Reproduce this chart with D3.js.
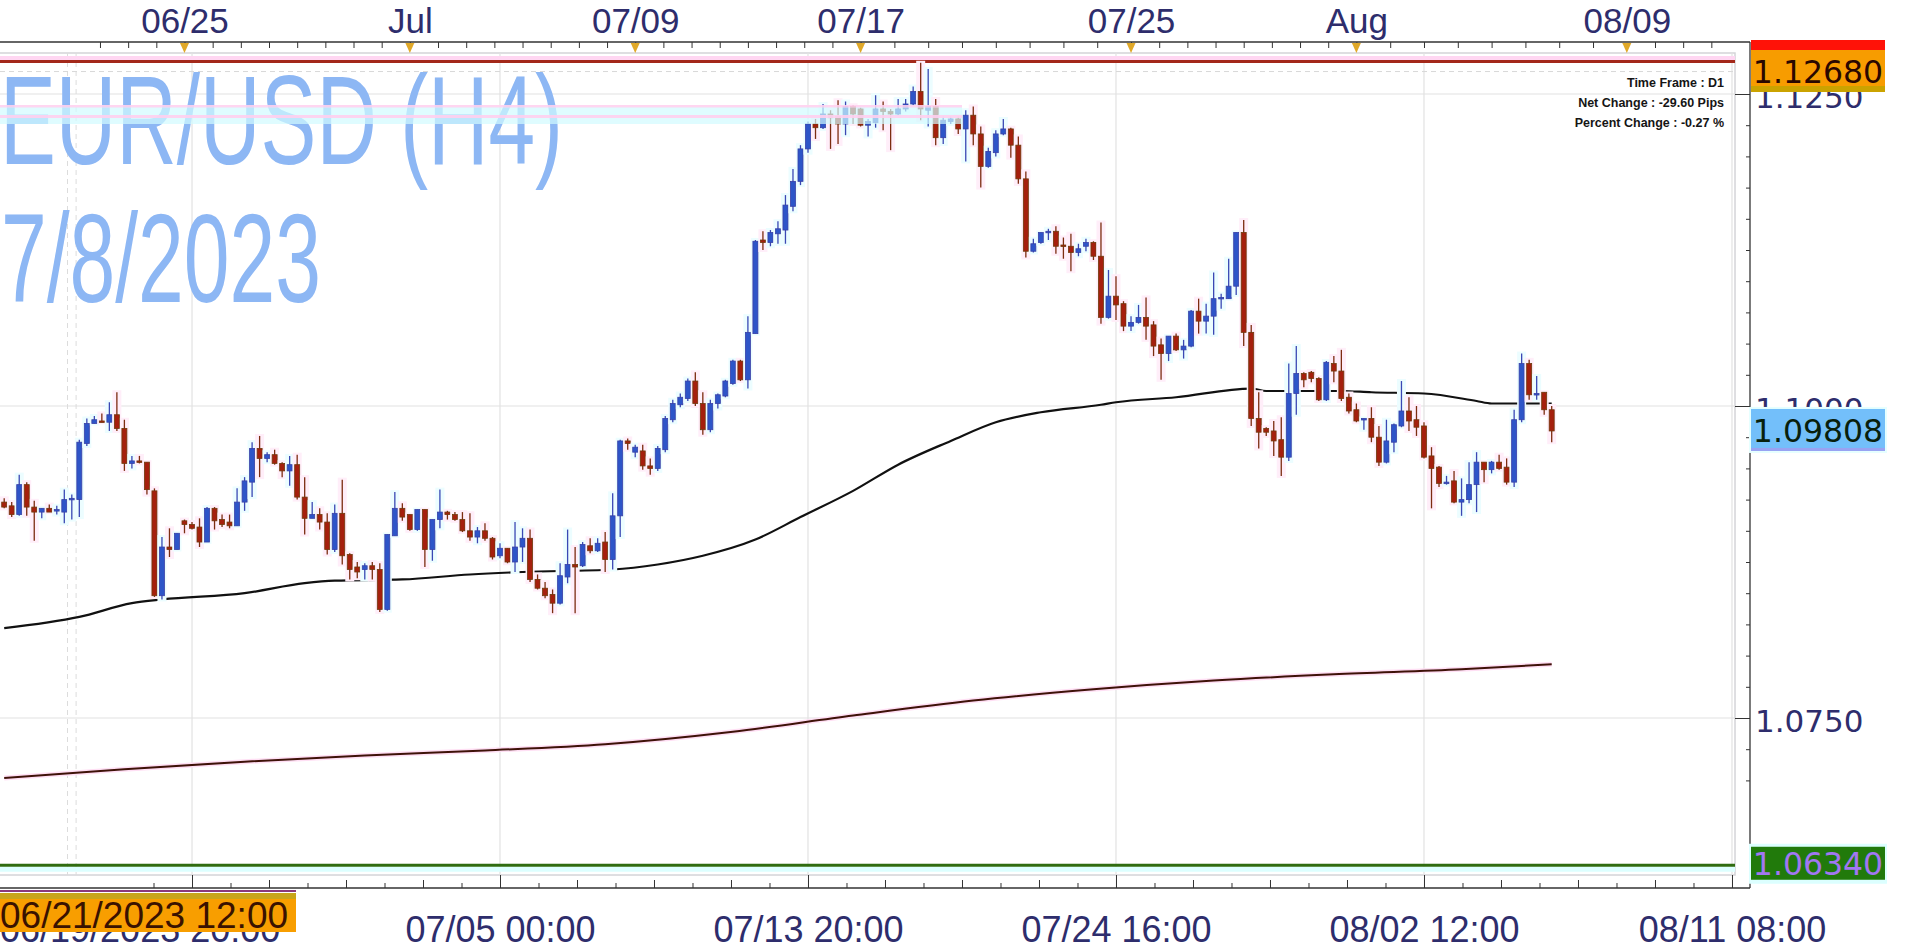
<!DOCTYPE html>
<html><head><meta charset="utf-8">
<script src="https://cdn.jsdelivr.net/npm/d3@7"></script>
<style>html,body{margin:0;padding:0;background:#fff;overflow:hidden}</style>
</head><body>
<svg id="c" width="1906" height="951"></svg>
<script>
// ---------------- DATA ----------------
const opens = [1.0923,1.0920,1.0913,1.0937,1.0919,1.0915,1.0918,1.0916,1.0915,1.0925,
1.0925,1.0970,1.0986,1.0988,1.0987,1.0993,1.0982,1.0954,1.0956,1.0955,
1.0932,1.0848,1.0887,1.0885,1.0908,1.0905,1.0903,1.0891,1.0918,1.0909,
1.0907,1.0904,1.0923,1.0939,1.0966,1.0958,1.0961,1.0954,1.0948,1.0953,
1.0927,1.0910,1.0913,1.0907,1.0885,1.0914,1.0881,1.0871,1.0869,1.0872,
1.0869,1.0837,1.0896,1.0918,1.0913,1.0901,1.0917,1.0885,1.0909,1.0915,
1.0913,1.0909,1.0900,1.0895,1.0900,1.0894,1.0880,1.0886,1.0875,1.0887,
1.0894,1.0861,1.0854,1.0849,1.0842,1.0863,1.0873,1.0872,1.0888,1.0884,
1.0891,1.0877,1.0912,1.0972,1.0963,1.0964,1.0952,1.0950,1.0965,1.0989,
1.1001,1.1006,1.1020,1.1002,1.0981,1.1002,1.1008,1.1018,1.1036,1.1021,
1.1058,1.1133,1.1131,1.1138,1.1141,1.1160,1.1180,1.1206,1.1226,1.1223,
1.1234,1.1232,1.1226,1.1240,1.1238,1.1225,1.1227,1.1238,1.1236,1.1234,
1.1238,1.1242,1.1252,1.1237,1.1240,1.1215,1.1228,1.1230,1.1222,1.1233,
1.1218,1.1192,1.1203,1.1218,1.1222,1.1209,1.1182,1.1124,1.1131,1.1139,
1.1140,1.1129,1.1128,1.1123,1.1128,1.1131,1.1120,1.1071,1.1088,1.1082,
1.1064,1.1067,1.1071,1.1065,1.1049,1.1042,1.1056,1.1045,1.1048,1.1076,
1.1068,1.1072,1.1086,1.1086,1.1096,1.1139,1.1059,1.0990,1.0982,1.0980,
1.0973,1.0959,1.1010,1.1026,1.1027,1.1022,1.1005,1.1034,1.1028,1.1007,
1.0997,1.0989,1.0990,1.0975,1.0955,1.0971,1.0984,1.0996,1.0989,1.0984,
1.0960,1.0951,1.0938,1.0940,1.0923,1.0925,1.0937,1.0955,1.0949,1.0955,
1.0951,1.0939,1.0989,1.1034,1.1009,1.1011,1.0997];
const highs = [1.0926,1.0923,1.0945,1.0939,1.0924,1.0918,1.0921,1.0920,1.0933,1.0929,
1.0973,1.0990,1.0992,1.0994,1.1003,1.1011,1.0989,1.0960,1.0960,1.0955,
1.0934,1.0895,1.0902,1.0898,1.0909,1.0907,1.0910,1.0919,1.0919,1.0913,
1.0913,1.0934,1.0943,1.0971,1.0976,1.0963,1.0965,1.0955,1.0960,1.0961,
1.0943,1.0923,1.0918,1.0914,1.0921,1.0941,1.0882,1.0875,1.0874,1.0875,
1.0874,1.0897,1.0931,1.0922,1.0913,1.0917,1.0917,1.0909,1.0933,1.0916,
1.0915,1.0915,1.0914,1.0903,1.0906,1.0895,1.0890,1.0886,1.0907,1.0902,
1.0901,1.0865,1.0859,1.0853,1.0874,1.0901,1.0887,1.0891,1.0894,1.0894,
1.0899,1.0930,1.0973,1.0974,1.0969,1.0969,1.0958,1.0968,1.0992,1.1005,
1.1010,1.1022,1.1027,1.1011,1.1005,1.1010,1.1021,1.1037,1.1037,1.1072,
1.1133,1.1140,1.1141,1.1148,1.1169,1.1190,1.1209,1.1228,1.1230,1.1242,
1.1237,1.1245,1.1244,1.1241,1.1239,1.1230,1.1249,1.1244,1.1238,1.1246,
1.1246,1.1256,1.1275,1.1270,1.1246,1.1232,1.1232,1.1232,1.1237,1.1240,
1.1224,1.1207,1.1221,1.1230,1.1223,1.1216,1.1188,1.1134,1.1139,1.1142,
1.1144,1.1135,1.1138,1.1130,1.1134,1.1132,1.1147,1.1109,1.1104,1.1084,
1.1072,1.1081,1.1087,1.1068,1.1054,1.1056,1.1058,1.1053,1.1077,1.1086,
1.1082,1.1107,1.1090,1.1118,1.1139,1.1149,1.1065,1.1011,1.0983,1.0988,
1.0991,1.1034,1.1048,1.1027,1.1028,1.1023,1.1036,1.1040,1.1045,1.1010,
1.1002,1.0990,1.0999,1.0984,1.0989,1.0986,1.1020,1.1007,1.1000,1.0987,
1.0967,1.0952,1.0944,1.0948,1.0942,1.0955,1.0963,1.0955,1.0956,1.0961,
1.0958,1.0997,1.1042,1.1037,1.1024,1.1011,1.1000];
const lows = [1.0918,1.0911,1.0912,1.0912,1.0892,1.0910,1.0915,1.0913,1.0906,1.0909,
1.0911,1.0968,1.0986,1.0987,1.0980,1.0980,1.0948,1.0950,1.0954,1.0929,
1.0847,1.0845,1.0879,1.0885,1.0898,1.0901,1.0887,1.0891,1.0901,1.0903,
1.0902,1.0904,1.0916,1.0927,1.0943,1.0955,1.0953,1.0943,1.0936,1.0925,
1.0897,1.0910,1.0901,1.0881,1.0883,1.0873,1.0861,1.0862,1.0861,1.0861,
1.0835,1.0836,1.0896,1.0908,1.0900,1.0900,1.0871,1.0876,1.0902,1.0909,
1.0908,1.0899,1.0892,1.0890,1.0892,1.0877,1.0878,1.0874,1.0867,1.0875,
1.0859,1.0853,1.0846,1.0834,1.0841,1.0858,1.0834,1.0871,1.0882,1.0883,
1.0867,1.0869,1.0895,1.0965,1.0959,1.0949,1.0945,1.0948,1.0963,1.0987,
1.0999,1.1004,1.1000,1.0977,1.0979,1.0998,1.1007,1.1017,1.1020,1.1014,
1.1058,1.1125,1.1128,1.1130,1.1130,1.1156,1.1177,1.1203,1.1214,1.1222,
1.1206,1.1210,1.1217,1.1226,1.1224,1.1216,1.1223,1.1221,1.1205,1.1233,
1.1236,1.1241,1.1229,1.1224,1.1209,1.1210,1.1226,1.1218,1.1196,1.1209,
1.1175,1.1191,1.1200,1.1217,1.1199,1.1178,1.1119,1.1123,1.1130,1.1133,
1.1122,1.1118,1.1108,1.1120,1.1124,1.1117,1.1066,1.1070,1.1069,1.1060,
1.1060,1.1066,1.1053,1.1040,1.1021,1.1036,1.1044,1.1038,1.1047,1.1058,
1.1058,1.1057,1.1078,1.1086,1.1089,1.1048,1.0984,1.0966,1.0976,1.0960,
1.0944,1.0956,1.0993,1.1015,1.1019,1.1004,1.1004,1.1019,1.1004,1.0994,
1.0987,1.0981,1.0971,1.0952,1.0954,1.0963,1.0983,1.0980,1.0976,1.0958,
1.0918,1.0935,1.0937,1.0922,1.0912,1.0922,1.0915,1.0939,1.0946,1.0949,
1.0937,1.0935,1.0987,1.1005,1.1005,1.0993,1.0971];
const closes = [1.0919,1.0913,1.0937,1.0919,1.0915,1.0918,1.0915,1.0917,1.0925,1.0926,
1.0971,1.0986,1.0989,1.0987,1.0993,1.0982,1.0954,1.0956,1.0955,1.0933,
1.0848,1.0887,1.0885,1.0898,1.0905,1.0902,1.0891,1.0918,1.0908,1.0905,
1.0904,1.0923,1.0940,1.0966,1.0958,1.0961,1.0954,1.0948,1.0953,1.0927,
1.0910,1.0913,1.0907,1.0885,1.0914,1.0880,1.0869,1.0867,1.0872,1.0869,
1.0837,1.0897,1.0918,1.0911,1.0901,1.0917,1.0885,1.0909,1.0915,1.0913,
1.0909,1.0900,1.0895,1.0900,1.0894,1.0879,1.0886,1.0875,1.0887,1.0894,
1.0861,1.0854,1.0848,1.0842,1.0864,1.0873,1.0871,1.0889,1.0884,1.0890,
1.0877,1.0912,1.0972,1.0970,1.0967,1.0952,1.0950,1.0966,1.0990,1.1002,
1.1007,1.1020,1.1002,1.0981,1.1002,1.1009,1.1020,1.1036,1.1021,1.1059,
1.1132,1.1131,1.1139,1.1142,1.1161,1.1180,1.1206,1.1226,1.1223,1.1234,
1.1231,1.1226,1.1240,1.1234,1.1225,1.1228,1.1238,1.1236,1.1234,1.1238,
1.1242,1.1252,1.1238,1.1240,1.1215,1.1229,1.1230,1.1222,1.1233,1.1218,
1.1192,1.1204,1.1218,1.1222,1.1209,1.1182,1.1124,1.1130,1.1139,1.1140,
1.1128,1.1128,1.1123,1.1126,1.1131,1.1120,1.1071,1.1088,1.1081,1.1064,
1.1067,1.1071,1.1064,1.1048,1.1042,1.1056,1.1045,1.1048,1.1076,1.1068,
1.1072,1.1086,1.1087,1.1096,1.1139,1.1059,1.0990,1.0979,1.0979,1.0972,
1.0959,1.1010,1.1026,1.1021,1.1022,1.1005,1.1035,1.1028,1.1006,1.0996,
1.0988,1.0990,1.0975,1.0955,1.0972,1.0985,1.0996,1.0988,1.0983,1.0959,
1.0950,1.0938,1.0939,1.0923,1.0925,1.0937,1.0955,1.0949,1.0955,1.0950,
1.0939,1.0989,1.1034,1.1009,1.1010,1.0997,1.0980];

// moving averages read at sample bars
const ma1Bars = [0,10,17,21,32,40,44,53,62,69,81,87,93,100,106,113,119,126,132,138,146,148,156,166,168,178,182,189,196,198,206];
const ma1Vals = [1.0822,1.0831,1.0842,1.0845,1.0850,1.0858,1.0860,1.0861,1.0865,1.0867,1.0869,1.0873,1.0880,1.0893,1.0911,1.0932,1.0953,1.0972,1.0987,1.0995,1.1001,1.1003,1.1007,1.1014,1.1012,1.1012,1.1011,1.1010,1.1004,1.1002,1.1002];
const ma2Bars = [0,16,32,48,64,80,97,113,129,145,161,177,194,206];
const ma2Vals = [1.0702,1.0709,1.0715,1.0720,1.0724,1.0729,1.0739,1.0752,1.0764,1.0773,1.0780,1.0785,1.0789,1.0793];

const priceMajor = [1.0750, 1.1000, 1.1250];
const priceLabels = ["1.0750","1.1000","1.1250"];
const topLabels = ["06/25","Jul","07/09","07/17","07/25","Aug","08/09"];
const topLabelBars = [24,54,84,114,150,180,216];
const bottomLabels = ["07/05 00:00","07/13 20:00","07/24 16:00","08/02 12:00","08/11 08:00"];
const bottomLabelBars = [66,107,148,189,230];
const gridBars = [25,66,107,148,189,230];
const firstLabel = "06/19/2023 20:00";
const cursorLabel = "06/21/2023 12:00";
const cursorBar = 9;
const periodHigh = 1.1276, highLabel = "1.12680", highLabelPrice = 1.1268;
const periodLow = 1.0632, lowLabel = "1.06340", lowLabelPrice = 1.0634;
const lastLabel = "1.09808", lastPrice = 1.09808;
const titleText = "EUR/USD (H4)", dateText = "7/8/2023";
const infoLines = ["Time Frame : D1","Net Change : -29.60 Pips","Percent Change : -0.27 %"];

// ---------------- LAYOUT ----------------
const svg = d3.select("#c");
const W = 1906, H = 951;
const plotL = 0, plotR = 1735, plotT = 53, plotB = 875;
const axisX = 1750, axisTopY = 42, axisBotY = 888;
const x = d3.scaleLinear().domain([0, 206]).range([4.2, 1551.7]);
const y = d3.scaleLinear().domain([1.075, 1.1]).range([718, 406]);
const NAVY = "#2e2d6c";

svg.append("rect").attr("width", W).attr("height", H).attr("fill", "#fff");
const defs = svg.append("defs");
defs.append("clipPath").attr("id", "pc").append("rect")
  .attr("x", plotL).attr("y", plotT).attr("width", plotR - plotL).attr("height", plotB - plotT);

// frame
svg.append("rect").attr("x", -2).attr("y", plotT).attr("width", plotR + 2).attr("height", plotB - plotT)
  .attr("fill", "none").attr("stroke", "#d4d4d8").attr("stroke-width", 1.5);

const plot = svg.append("g").attr("clip-path", "url(#pc)");

// grid
plot.selectAll("line.hg").data(priceMajor).join("line")
  .attr("x1", plotL).attr("x2", plotR).attr("y1", d => y(d)).attr("y2", d => y(d))
  .attr("stroke", "#e2e2e2").attr("stroke-width", 1.2);
plot.selectAll("line.vg").data(gridBars).join("line")
  .attr("x1", d => x(d)).attr("x2", d => x(d)).attr("y1", plotT).attr("y2", plotB)
  .attr("stroke", "#e2e2e2").attr("stroke-width", 1.2);
// cursor dashed lines
plot.selectAll("line.cur").data([-4.3, 4.3]).join("line")
  .attr("x1", d => x(cursorBar) + d).attr("x2", d => x(cursorBar) + d)
  .attr("y1", plotT).attr("y2", plotB)
  .attr("stroke", "#dcdcdc").attr("stroke-dasharray", "5,4").attr("stroke-width", 1);

// dashed level line
plot.append("line").attr("x1", plotL).attr("x2", plotR)
  .attr("y1", y(highLabelPrice)).attr("y2", y(highLabelPrice))
  .attr("stroke", "#d8d8d8").attr("stroke-dasharray", "5,4");

// title watermark
const title = svg.append("g");
title.append("text").attr("x", 0).attr("y", 164).text(titleText)
  .attr("font-family", "Liberation Sans, Arial, sans-serif").attr("font-size", 127)
  .attr("textLength", 563).attr("lengthAdjust", "spacingAndGlyphs").attr("fill", "#8db7f4");
title.append("text").attr("x", 1).attr("y", 302).text(dateText)
  .attr("font-family", "Liberation Sans, Arial, sans-serif").attr("font-size", 127)
  .attr("textLength", 320).attr("lengthAdjust", "spacingAndGlyphs").attr("fill", "#8db7f4");
// cyan/pink band artefact
svg.append("rect").attr("x", 0).attr("y", 107).attr("width", 962).attr("height", 17)
  .attr("fill", "#d2fbff").attr("opacity", 0.7);
svg.append("rect").attr("x", 0).attr("y", 105).attr("width", 962).attr("height", 2.5).attr("fill", "#ffd2f0").attr("opacity", 0.9);
svg.append("rect").attr("x", 0).attr("y", 115).attr("width", 962).attr("height", 3).attr("fill", "#ffcfee").attr("opacity", 0.9);

// period high / low lines
plot.append("line").attr("x1", plotL).attr("x2", plotR).attr("y1", y(periodHigh) - 3).attr("y2", y(periodHigh) - 3)
  .attr("stroke", "#ffd6f2").attr("stroke-width", 5);
plot.append("line").attr("x1", plotL).attr("x2", plotR).attr("y1", y(periodHigh)).attr("y2", y(periodHigh))
  .attr("stroke", "#a3281a").attr("stroke-width", 3);
plot.append("line").attr("x1", plotL).attr("x2", plotR).attr("y1", y(periodLow) + 4).attr("y2", y(periodLow) + 4)
  .attr("stroke", "#dcffff").attr("stroke-width", 5);
plot.append("line").attr("x1", plotL).attr("x2", plotR).attr("y1", y(periodLow)).attr("y2", y(periodLow))
  .attr("stroke", "#2f6c10").attr("stroke-width", 3);

// moving averages
const line = d3.line().x(d => x(d[0])).y(d => y(d[1])).curve(d3.curveMonotoneX);
const ma2 = ma2Bars.map((b, i) => [b, ma2Vals[i]]);
const ma1 = ma1Bars.map((b, i) => [b, ma1Vals[i]]);
plot.append("path").attr("d", line(ma2)).attr("fill", "none").attr("stroke", "#ffdff4").attr("stroke-width", 5);
plot.append("path").attr("d", line(ma2)).attr("fill", "none").attr("stroke", "#3e1208").attr("stroke-width", 2);
plot.append("path").attr("d", line(ma1)).attr("fill", "none").attr("stroke", "#111").attr("stroke-width", 2.2);

// candles
const bars = d3.range(opens.length);
const bw = 5;
const cg = plot.selectAll("g.cd").data(bars).join("g");
cg.append("rect").attr("class", "halo")
  .attr("x", i => x(i) - bw / 2 - 2).attr("width", bw + 4)
  .attr("y", i => y(highs[i]) - 2).attr("height", i => y(lows[i]) - y(highs[i]) + 4)
  .attr("fill", i => closes[i] >= opens[i] ? "#ecfdff" : "#ffeef9");
cg.append("line")
  .attr("x1", i => x(i)).attr("x2", i => x(i))
  .attr("y1", i => y(highs[i])).attr("y2", i => y(lows[i]))
  .attr("stroke", i => closes[i] >= opens[i] ? "#3a48b4" : "#7c2c10").attr("stroke-width", 1.3);
cg.append("rect")
  .attr("x", i => x(i) - bw / 2).attr("width", bw)
  .attr("y", i => y(Math.max(opens[i], closes[i])))
  .attr("height", i => Math.max(1.5, Math.abs(y(opens[i]) - y(closes[i]))))
  .attr("fill", i => closes[i] >= opens[i] ? "#2d55c8" : "#a51f0d")
  .attr("stroke", i => closes[i] >= opens[i] ? "#3940a6" : "#6e3a0c").attr("stroke-width", 0.8);

// info block
svg.selectAll("text.info").data(infoLines).join("text")
  .attr("x", 1724).attr("y", (d, i) => 87 + i * 20).attr("text-anchor", "end")
  .attr("font-family", "Liberation Sans, Arial, sans-serif").attr("font-weight", "bold")
  .attr("font-size", 12.5).attr("fill", "#151515").text(d => d);

// ---------------- AXES ----------------
// right axis
const minorPrices = d3.range(-12, 11).map(i => 1.1 + i * 0.0025);
svg.append("g").attr("transform", `translate(${axisX},0)`)
  .call(d3.axisRight(y).tickValues(minorPrices.filter(v => y(v) > axisTopY + 5 && y(v) < axisBotY - 5)).tickSize(-4).tickFormat(""))
  .call(g => g.select(".domain").remove())
  .selectAll("line").attr("stroke", "#333");
const ra = svg.append("g").attr("transform", `translate(${axisX},0)`)
  .call(d3.axisRight(y).tickValues(priceMajor).tickSize(-15).tickPadding(5).tickFormat((d, i) => priceLabels[i]));
ra.select(".domain").remove();
ra.selectAll("line").attr("stroke", "#333");
ra.selectAll("text").attr("font-family", "DejaVu Sans, Verdana, sans-serif").attr("font-size", 31)
  .attr("fill", NAVY).attr("dy", "0.42em");

// top axis
const ticksTop = [];
for (let j = 0; j < topLabelBars.length - 1; j++) {
  const a = topLabelBars[j], b = topLabelBars[j + 1];
  for (let s = 0; s < 8; s++) ticksTop.push(a + (b - a) * s / 8);
}
for (let s = 1; s <= 3; s++) ticksTop.push(topLabelBars[0] - 30 * s / 8);
for (let s = 1; s <= 3; s++) ticksTop.push(topLabelBars[6] + 30 * s / 8);
const ta = svg.append("g").attr("transform", `translate(0,${axisTopY})`)
  .call(d3.axisTop(x).tickValues(ticksTop.filter(v => x(v) > 2 && x(v) < axisX - 2)).tickSize(-6).tickFormat(""));
ta.select(".domain").remove();
ta.selectAll("line").attr("stroke", "#333");
const tl = svg.append("g").attr("transform", `translate(0,${axisTopY})`)
  .call(d3.axisTop(x).tickValues(topLabelBars).tickSize(0).tickPadding(9).tickFormat((d, i) => topLabels[i]));
tl.select(".domain").remove();
tl.selectAll("text").attr("font-family", "Liberation Sans, Arial, sans-serif").attr("font-size", 35).attr("fill", NAVY);
// markers
svg.selectAll("path.tri").data(topLabelBars).join("path")
  .attr("d", d => `M${x(d) - 4.5},${axisTopY + 1}L${x(d) + 4.5},${axisTopY + 1}L${x(d)},${axisTopY + 11}Z`)
  .attr("fill", "#e0a828");

// bottom axis
const ticksBot = [];
for (let k = -1; k < 9 * 6; k++) ticksBot.push(25 + k * 41 / 8);
const ba = svg.append("g").attr("transform", `translate(0,${axisBotY})`)
  .call(d3.axisBottom(x).tickValues(ticksBot.filter(v => x(v) > 2 && x(v) < axisX - 4)).tickSize(-5).tickFormat(""));
ba.select(".domain").remove();
ba.selectAll("line").attr("stroke", "#333").attr("y2", (d, i) => (i % 2 ? -8 : -5));
const bm = svg.append("g").attr("transform", `translate(0,${axisBotY})`)
  .call(d3.axisBottom(x).tickValues(gridBars).tickSize(-13).tickPadding(28).tickFormat(d => {
    const j = bottomLabelBars.indexOf(d); return j >= 0 ? bottomLabels[j] : "";
  }));
bm.select(".domain").remove();
bm.selectAll("line").attr("stroke", "#333");
bm.selectAll("text").attr("font-family", "Liberation Sans, Arial, sans-serif").attr("font-size", 36).attr("fill", NAVY);
svg.append("text").attr("x", 0).attr("y", 942).text(firstLabel)
  .attr("font-family", "Liberation Sans, Arial, sans-serif").attr("font-size", 36).attr("fill", NAVY);

// axis lines
svg.append("line").attr("x1", 0).attr("x2", axisX).attr("y1", axisTopY).attr("y2", axisTopY).attr("stroke", "#333").attr("stroke-width", 1.3);
svg.append("line").attr("x1", 0).attr("x2", axisX).attr("y1", axisBotY).attr("y2", axisBotY).attr("stroke", "#333").attr("stroke-width", 1.3);
svg.append("line").attr("x1", axisX).attr("x2", axisX).attr("y1", axisTopY).attr("y2", axisBotY).attr("stroke", "#333").attr("stroke-width", 1.3);

// ---------------- LABEL BOXES ----------------
const boxX = 1751, boxW = 134, fnt = "DejaVu Sans, Verdana, sans-serif";
// high box
svg.append("rect").attr("x", boxX).attr("y", 40).attr("width", boxW).attr("height", 10).attr("fill", "#ff1208");
svg.append("rect").attr("x", boxX).attr("y", 50).attr("width", boxW).attr("height", 42).attr("fill", "#f79c00");
svg.append("rect").attr("x", boxX).attr("y", 86).attr("width", boxW).attr("height", 6).attr("fill", "#cba300");
svg.append("text").attr("x", boxX + boxW / 2).attr("y", y(highLabelPrice) + 11).attr("text-anchor", "middle")
  .attr("font-family", fnt).attr("font-size", 31.5).attr("fill", "#2a0800").text(highLabel);
// last price box
const ly = y(lastPrice);
svg.append("rect").attr("x", boxX - 2).attr("y", ly - 23).attr("width", boxW + 4).attr("height", 46).attr("fill", "#e6ffff");
svg.append("rect").attr("x", boxX).attr("y", ly - 21).attr("width", boxW).attr("height", 42).attr("fill", "#73bffa");
svg.append("rect").attr("x", boxX).attr("y", ly + 18).attr("width", boxW).attr("height", 3).attr("fill", "#9aa2f2");
svg.append("text").attr("x", boxX + boxW / 2).attr("y", ly + 12).attr("text-anchor", "middle")
  .attr("font-family", fnt).attr("font-size", 31.5).attr("fill", "#08200c").text(lastLabel);
// low box
const lwy = y(lowLabelPrice);
svg.append("rect").attr("x", boxX - 2).attr("y", lwy - 19).attr("width", boxW + 4).attr("height", 40).attr("fill", "#dcffff");
svg.append("rect").attr("x", boxX).attr("y", lwy - 16).attr("width", boxW).attr("height", 33).attr("fill", "#217a0b");
svg.append("text").attr("x", boxX + boxW / 2).attr("y", lwy + 12).attr("text-anchor", "middle")
  .attr("font-family", fnt).attr("font-size", 31.5).attr("fill", "#a277f2").text(lowLabel);

// cursor date box (bottom-left)
svg.append("rect").attr("x", 0).attr("y", 890).attr("width", 296).attr("height", 2).attr("fill", "#8a3a7a");
svg.append("rect").attr("x", 0).attr("y", 893).attr("width", 296).attr("height", 6).attr("fill", "#c8a51a");
svg.append("rect").attr("x", 0).attr("y", 899).attr("width", 296).attr("height", 33).attr("fill", "#f89e00");
svg.append("text").attr("x", 0).attr("y", 928).text(cursorLabel)
  .attr("font-family", "Liberation Sans, Arial, sans-serif").attr("font-size", 37).attr("fill", "#3a1200");
</script>
</body></html>
